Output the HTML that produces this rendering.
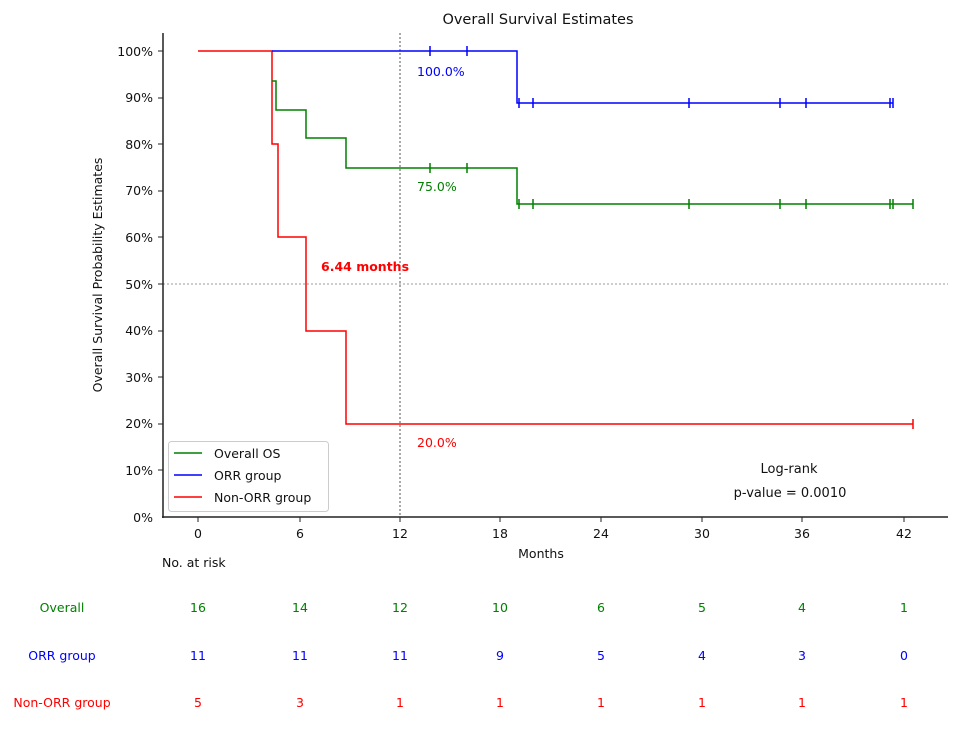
<!DOCTYPE html>
<html><head><meta charset="utf-8"><style>
html,body{margin:0;padding:0;background:#fff;}
svg text{font-family:"DejaVu Sans","Liberation Sans",sans-serif;}
</style></head><body>
<svg width="960" height="725" viewBox="0 0 960 725" xmlns="http://www.w3.org/2000/svg">
<rect width="960" height="725" fill="#fff"/>
<text x="538" y="24" font-size="14.5" text-anchor="middle" fill="#111">Overall Survival Estimates</text>
<line x1="163" y1="284" x2="948" y2="284" stroke="#999" stroke-width="1" stroke-dasharray="2,2"/>
<line x1="400" y1="33" x2="400" y2="517" stroke="#555" stroke-width="1" stroke-dasharray="2,2"/>
<line x1="163" y1="33" x2="163" y2="518" stroke="#222" stroke-width="1.5"/>
<line x1="162" y1="517" x2="948" y2="517" stroke="#222" stroke-width="1.5"/>
<g font-size="12.5" fill="#111" text-anchor="end">
<text x="153" y="56">100%</text><text x="153" y="102">90%</text><text x="153" y="149">80%</text>
<text x="153" y="195">70%</text><text x="153" y="242">60%</text><text x="153" y="289">50%</text>
<text x="153" y="335">40%</text><text x="153" y="382">30%</text><text x="153" y="428">20%</text>
<text x="153" y="475">10%</text><text x="153" y="522">0%</text>
</g>
<g stroke="#222" stroke-width="1">
<line x1="158" y1="51" x2="163" y2="51"/><line x1="158" y1="98" x2="163" y2="98"/><line x1="158" y1="144" x2="163" y2="144"/>
<line x1="158" y1="191" x2="163" y2="191"/><line x1="158" y1="237" x2="163" y2="237"/><line x1="158" y1="284" x2="163" y2="284"/>
<line x1="158" y1="331" x2="163" y2="331"/><line x1="158" y1="377" x2="163" y2="377"/><line x1="158" y1="424" x2="163" y2="424"/>
<line x1="158" y1="470" x2="163" y2="470"/>
<line x1="198" y1="517" x2="198" y2="522"/><line x1="300" y1="517" x2="300" y2="522"/><line x1="400" y1="517" x2="400" y2="522"/>
<line x1="500" y1="517" x2="500" y2="522"/><line x1="601" y1="517" x2="601" y2="522"/><line x1="702" y1="517" x2="702" y2="522"/>
<line x1="802" y1="517" x2="802" y2="522"/><line x1="904" y1="517" x2="904" y2="522"/>
</g>
<g font-size="12.5" fill="#111" text-anchor="middle">
<text x="198" y="538">0</text><text x="300" y="538">6</text><text x="400" y="538">12</text><text x="500" y="538">18</text>
<text x="601" y="538">24</text><text x="702" y="538">30</text><text x="802" y="538">36</text><text x="904" y="538">42</text>
<text x="541" y="558">Months</text>
</g>
<text x="162" y="567" font-size="12.5" fill="#111">No. at risk</text>
<text transform="translate(102,275) rotate(-90)" font-size="12.5" text-anchor="middle" fill="#111">Overall Survival Probability Estimates</text>
<polyline fill="none" stroke="#ff0000" stroke-width="1.5" points="198,51 272,51 272,144 278,144 278,237 306,237 306,331 346,331 346,424 913,424"/>
<line x1="913" y1="419" x2="913" y2="429" stroke="#ff0000" stroke-width="1.5"/>
<polyline fill="none" stroke="#0000ff" stroke-width="1.5" points="272,51 517,51 517,103 893,103"/>
<g stroke="#0000ff" stroke-width="1.5">
<line x1="430" y1="46" x2="430" y2="56"/><line x1="467" y1="46" x2="467" y2="56"/>
<line x1="519" y1="98" x2="519" y2="108"/><line x1="533" y1="98" x2="533" y2="108"/><line x1="689" y1="98" x2="689" y2="108"/>
<line x1="780" y1="98" x2="780" y2="108"/><line x1="806" y1="98" x2="806" y2="108"/><line x1="890" y1="98" x2="890" y2="108"/><line x1="893" y1="98" x2="893" y2="108"/>
</g>
<polyline fill="none" stroke="#008000" stroke-width="1.5" points="272,81 276,81 276,110 306,110 306,138 346,138 346,168 517,168 517,204 913,204"/>
<g stroke="#008000" stroke-width="1.5">
<line x1="430" y1="163" x2="430" y2="173"/><line x1="467" y1="163" x2="467" y2="173"/>
<line x1="519" y1="199" x2="519" y2="209"/><line x1="533" y1="199" x2="533" y2="209"/><line x1="689" y1="199" x2="689" y2="209"/>
<line x1="780" y1="199" x2="780" y2="209"/><line x1="806" y1="199" x2="806" y2="209"/><line x1="890" y1="199" x2="890" y2="209"/><line x1="893" y1="199" x2="893" y2="209"/><line x1="913" y1="199" x2="913" y2="209"/>
</g>
<text x="417" y="76" font-size="12.5" fill="#0000ff">100.0%</text>
<text x="417" y="191" font-size="12.5" fill="#008000">75.0%</text>
<text x="417" y="447" font-size="12.5" fill="#ff0000">20.0%</text>
<text x="321" y="271" font-size="12.5" font-weight="bold" fill="#ff0000">6.44 months</text>
<rect x="168.5" y="441.5" width="160" height="70" rx="3" fill="#fff" stroke="#ccc"/>
<line x1="174" y1="453" x2="202" y2="453" stroke="#008000" stroke-width="1.5"/>
<line x1="174" y1="475" x2="202" y2="475" stroke="#0000ff" stroke-width="1.5"/>
<line x1="174" y1="497" x2="202" y2="497" stroke="#ff0000" stroke-width="1.5"/>
<g font-size="12.5" fill="#111">
<text x="214" y="458">Overall OS</text><text x="214" y="480">ORR group</text><text x="214" y="502">Non-ORR group</text>
</g>
<text x="789" y="473" font-size="13" text-anchor="middle" fill="#111">Log-rank</text>
<text x="790" y="497" font-size="13" text-anchor="middle" fill="#111">p-value = 0.0010</text>
<g font-size="12.5" text-anchor="middle">
<g fill="#008000"><text x="62" y="612">Overall</text>
<text x="198" y="612">16</text><text x="300" y="612">14</text><text x="400" y="612">12</text><text x="500" y="612">10</text>
<text x="601" y="612">6</text><text x="702" y="612">5</text><text x="802" y="612">4</text><text x="904" y="612">1</text></g>
<g fill="#0000ff"><text x="62" y="660">ORR group</text>
<text x="198" y="660">11</text><text x="300" y="660">11</text><text x="400" y="660">11</text><text x="500" y="660">9</text>
<text x="601" y="660">5</text><text x="702" y="660">4</text><text x="802" y="660">3</text><text x="904" y="660">0</text></g>
<g fill="#ff0000"><text x="62" y="707">Non-ORR group</text>
<text x="198" y="707">5</text><text x="300" y="707">3</text><text x="400" y="707">1</text><text x="500" y="707">1</text>
<text x="601" y="707">1</text><text x="702" y="707">1</text><text x="802" y="707">1</text><text x="904" y="707">1</text></g>
</g>
</svg>
</body></html>
